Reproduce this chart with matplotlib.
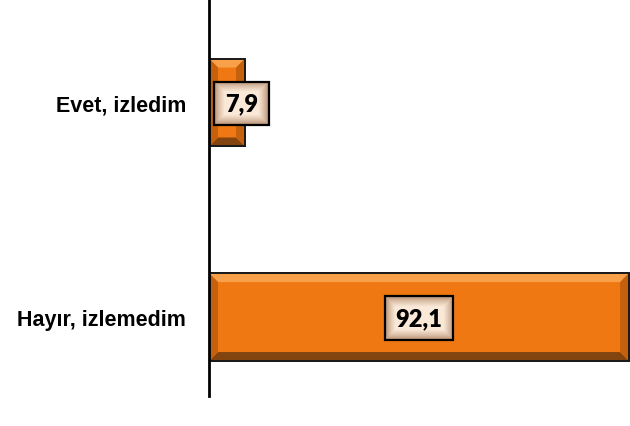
import numpy as np
import matplotlib
matplotlib.use("Agg")
import matplotlib.pyplot as plt
from matplotlib.patches import Polygon, Rectangle
from matplotlib.colors import to_rgb

categories = ["Evet, izledim", "Hayır, izlemedim"]
values = [7.9, 92.1]
value_labels = ["7,9", "92,1"]

W, H, DPI = 630, 427, 100
fig = plt.figure(figsize=(W / DPI, H / DPI), dpi=DPI)
ax = fig.add_axes([209 / W, 30 / H, (W - 209) / W, 397 / H])

xmax = 92.3
ylim = (1.368, -0.4825)
ax.set_xlim(0, xmax)
ax.set_ylim(*ylim)

bar_h = 0.41
main_c = "#F07812"
light_c = "#F9A04A"
dark_c = "#83450F"
side_c = "#C4600E"

ypos = np.arange(len(categories))
ax.barh(ypos, values, height=bar_h, color=main_c, edgecolor="#1a1a1a",
        linewidth=1.4, zorder=2)

# bevel sizes in pixels converted to data units
ax_w_px = (W - 209)
ax_h_px = 397
dx = xmax / ax_w_px
dy = (ylim[0] - ylim[1]) / ax_h_px
bx = 9 * dx
by = 9 * dy
for y, v in zip(ypos, values):
    x0, x1 = 0, v
    yt, yb = y - bar_h / 2, y + bar_h / 2
    polys = [
        ([(x0, yt), (x1, yt), (x1 - bx, yt + by), (x0 + bx, yt + by)], light_c),
        ([(x0, yb), (x1, yb), (x1 - bx, yb - by), (x0 + bx, yb - by)], dark_c),
        ([(x0, yt), (x0 + bx, yt + by), (x0 + bx, yb - by), (x0, yb)], side_c),
        ([(x1, yt), (x1 - bx, yt + by), (x1 - bx, yb - by), (x1, yb)], side_c),
    ]
    for pts, c in polys:
        ax.add_patch(Polygon(pts, closed=True, facecolor=c, edgecolor="none",
                             zorder=2.5))
    ax.add_patch(Rectangle((x0, yt), v, bar_h, facecolor="none",
                           edgecolor="#1a1a1a", linewidth=1.4, zorder=2.6))

texts = []
for y, v, lab in zip(ypos, values, value_labels):
    t = ax.text(max(v / 2, 7.1), y + 0.005, lab, ha="center", va="center",
                fontsize=17, fontweight="heavy", family=["Lato", "DejaVu Sans"],
                color="black", zorder=5,
                bbox=dict(boxstyle="square,pad=0.45", facecolor="none",
                          edgecolor="black", linewidth=1.6))
    texts.append(t)

ax.set_yticks(ypos)
ax.set_yticklabels(categories, fontsize=15.5, fontweight="bold",
                   family=["Liberation Sans Narrow", "Liberation Sans"])
ax.tick_params(axis="y", length=0, pad=16.5)
ax.set_xticks([])
for s in ["top", "right", "bottom"]:
    ax.spines[s].set_visible(False)
ax.spines["left"].set_linewidth(2)
ax.spines["left"].set_zorder(6)

# gradient fill for label boxes
fig.canvas.draw()
edge_c = np.array(to_rgb("#B08868"))
center_c = np.array(to_rgb("#FBE9D8"))
inv = ax.transData.inverted()
for t in texts:
    bb = t.get_bbox_patch().get_window_extent()
    (xa, ya), (xb, yb2) = inv.transform([(bb.x0, bb.y0), (bb.x1, bb.y1)])
    nx, ny = int(bb.width), int(bb.height)
    gx = np.minimum(np.arange(nx), np.arange(nx)[::-1])[None, :]
    gy = np.minimum(np.arange(ny), np.arange(ny)[::-1])[:, None]
    d = np.minimum(gx, gy).astype(float)
    f = np.clip(d / 10.0, 0, 1) ** 0.7
    img = edge_c[None, None, :] * (1 - f[..., None]) + center_c[None, None, :] * f[..., None]
    ax.imshow(img, extent=(xa, xb, ya, yb2), origin="upper", aspect="auto",
              zorder=4, interpolation="bilinear")

ax.set_xlim(0, xmax)
ax.set_ylim(*ylim)

fig.savefig("out.png", dpi=DPI)
